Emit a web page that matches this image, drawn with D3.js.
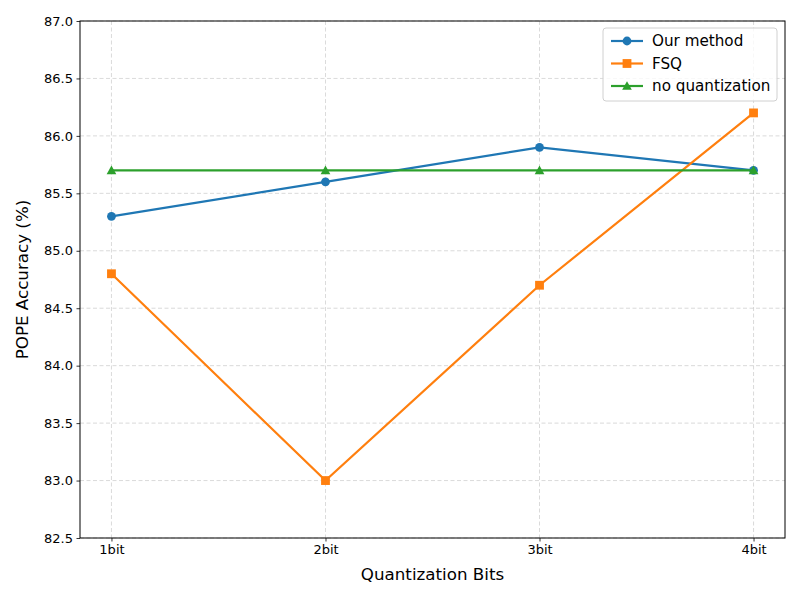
<!DOCTYPE html>
<html>
<head>
<meta charset="utf-8">
<script src="https://cdn.jsdelivr.net/npm/d3@7"></script>
<style>
  body { margin: 0; background: #fff; }
  svg, svg text { font-family: "DejaVu Sans", sans-serif; }
</style>
</head>
<body>
<div id="chart"></div>
<script>
const categories = ["1bit", "2bit", "3bit", "4bit"];
const ourMethod = [85.3, 85.6, 85.9, 85.7];
const fsq = [84.8, 83.0, 84.7, 86.2];
const noQuant = [85.7, 85.7, 85.7, 85.7];
const yTicks = [82.5, 83.0, 83.5, 84.0, 84.5, 85.0, 85.5, 86.0, 86.5, 87.0];

const series = [
  { name: "Our method", values: ourMethod, color: "#1f77b4", marker: "circle" },
  { name: "FSQ", values: fsq, color: "#ff7f0e", marker: "square" },
  { name: "no quantization", values: noQuant, color: "#2ca02c", marker: "triangle" }
];

const W = 800, H = 600;
const m = { left: 80, right: 15, top: 21, bottom: 62 };
const iw = W - m.left - m.right, ih = H - m.top - m.bottom;

const svg = d3.select("#chart").append("svg")
    .attr("width", W).attr("height", H);

const x = d3.scaleLinear().domain([-0.147, 3.147]).range([0, iw]);
const y = d3.scaleLinear().domain([82.5, 87.0]).range([ih, 0]);

const g = svg.append("g").attr("transform", `translate(${m.left},${m.top})`);

// grid
g.append("g").selectAll("line")
  .data(categories)
  .join("line")
    .attr("x1", (d, i) => x(i)).attr("x2", (d, i) => x(i))
    .attr("y1", 0).attr("y2", ih)
    .attr("stroke", "#b0b0b0").attr("stroke-opacity", 0.6)
    .attr("stroke-dasharray", "4,2.5").attr("stroke-width", 0.8);
g.append("g").selectAll("line")
  .data(yTicks)
  .join("line")
    .attr("x1", 0).attr("x2", iw)
    .attr("y1", d => y(d)).attr("y2", d => y(d))
    .attr("stroke", "#b0b0b0").attr("stroke-opacity", 0.6)
    .attr("stroke-dasharray", "4,2.5").attr("stroke-width", 0.8);

// axes
const xAxis = d3.axisBottom(x)
    .tickValues(d3.range(categories.length))
    .tickFormat(i => categories[i])
    .tickSize(3.5).tickPadding(3.5);
const yAxis = d3.axisLeft(y)
    .tickValues(yTicks)
    .tickFormat(d3.format(".1f"))
    .tickSize(3.5).tickPadding(3.5);

function styleAxis(a) {
  a.attr("font-family", "DejaVu Sans").attr("font-size", 13);
  a.select(".domain").remove();
  a.selectAll("text").style("font-size", "13px").attr("fill", "#000");
  a.selectAll("line").attr("stroke", "#000").attr("stroke-width", 0.8);
}

g.append("g").attr("transform", `translate(0,${ih})`).call(xAxis).call(styleAxis);
g.append("g").call(yAxis).call(styleAxis);

const line = d3.line().x((d, i) => x(i)).y(d => y(d));

function drawMarker(sel, type, color, size) {
  if (type === "circle") {
    sel.append("circle").attr("r", size).attr("fill", color);
  } else if (type === "square") {
    sel.append("rect").attr("x", -size).attr("y", -size)
      .attr("width", size * 2).attr("height", size * 2).attr("fill", color);
  } else {
    const s = size * 1.1;
    sel.append("path").attr("d", `M0,${-s}L${s},${s * 0.8}L${-s},${s * 0.8}Z`).attr("fill", color);
  }
}

series.forEach(s => {
  g.append("path").datum(s.values)
    .attr("d", line).attr("fill", "none")
    .attr("stroke", s.color).attr("stroke-width", 2.2);
  s.values.forEach((v, i) => {
    const mg = g.append("g").attr("transform", `translate(${x(i)},${y(v)})`);
    drawMarker(mg, s.marker, s.color, 4.4);
  });
});

// frame
g.append("rect").attr("width", iw).attr("height", ih)
  .attr("fill", "none").attr("stroke", "#000").attr("stroke-width", 1);

// axis labels
svg.append("text")
  .attr("x", m.left + iw / 2).attr("y", H - 20)
  .attr("text-anchor", "middle").style("font-size", "16.7px").text("Quantization Bits");
svg.append("text")
  .attr("transform", `translate(28,${m.top + ih / 2}) rotate(-90)`)
  .attr("text-anchor", "middle").style("font-size", "16.7px").text("POPE Accuracy (%)");

// legend
const lg = svg.append("g").attr("transform", "translate(603,28)");
lg.append("rect").attr("width", 174).attr("height", 73).attr("rx", 3)
  .attr("fill", "#fff").attr("fill-opacity", 0.8)
  .attr("stroke", "#d0d0d0").attr("stroke-width", 1);
series.forEach((s, i) => {
  const row = lg.append("g").attr("transform", `translate(0,${13 + i * 22.5})`);
  row.append("line").attr("x1", 8).attr("x2", 40)
    .attr("stroke", s.color).attr("stroke-width", 2.2);
  const mg = row.append("g").attr("transform", "translate(24,0)");
  drawMarker(mg, s.marker, s.color, 4.4);
  row.append("text").attr("x", 49).attr("y", 0).attr("dy", "0.35em")
    .style("font-size", "15.2px").text(s.name);
});
</script>
</body>
</html>
